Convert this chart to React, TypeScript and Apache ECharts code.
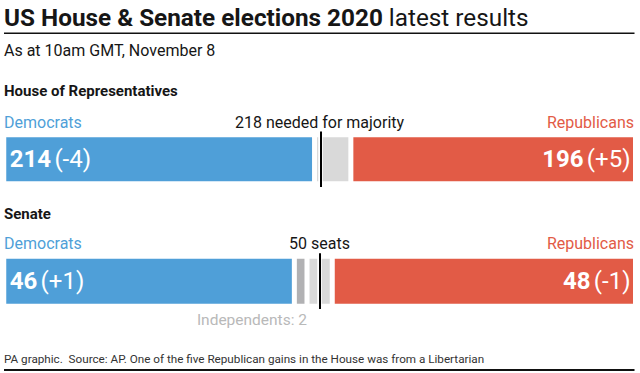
import React, { useEffect, useRef } from "react";
import * as echarts from "echarts";

const chambers = ["House of Representatives", "Senate"];
const totalSeats = [435, 100];
const majoritySeats = [218, 50];
const majorityLabels = ["218 needed for majority", "50 seats"];
const demSeats = [214, 46];
const demChange = ["-4", "+1"];
const indSeats = [0, 2];
const undecidedSeats = [25, 4];
const repSeats = [196, 48];
const repChange = ["+5", "-1"];
const partyNames = ["Democrats", "Republicans"];
const indLabel = "Independents: 2";

const titleBold = "US House & Senate elections 2020";
const titleLight = " latest results";
const subtitle = "As at 10am GMT, November 8";
const footnote = "PA graphic.  Source: AP. One of the five Republican gains in the House was from a Libertarian";

const FONT = "Roboto, 'Noto Sans', sans-serif";
const BLUE = "#4f9fd8";
const RED = "#e25b46";
const LIGHT = "#d9d9d9";
const IND = "#b1b1b3";
const INK = "#161616";

// layout (pixels)
const gridTops = [131.5, 253.3];
const gridHeights = [55.5, 55.7];
const barWidths = [49, 50];
const headingY = [92.5, 215];
const partyY = [122.5, 243];

export default function App() {
  const ref = useRef<HTMLDivElement>(null);
  useEffect(() => {
    if (!ref.current) return;
    const chart = echarts.init(ref.current, undefined, { renderer: "svg" });

    const grids: any[] = [];
    const xAxes: any[] = [];
    const yAxes: any[] = [];
    const series: any[] = [];
    const graphics: any[] = [];

    const richLabel = {
      b: { fontFamily: FONT, fontWeight: "bold", fontSize: 24, color: "#fff" },
      r: { fontFamily: FONT, fontWeight: "normal", fontSize: 24, color: "#fff" },
    };
    const itemBorder = { borderColor: "#fff", borderWidth: 2.5 };

    chambers.forEach((name, i) => {
      grids.push({ left: 3.75, right: 4.5, top: gridTops[i], height: gridHeights[i] });
      xAxes.push({ type: "value", gridIndex: i, min: 0, max: totalSeats[i], show: false });
      yAxes.push({ type: "category", gridIndex: i, data: [name], show: false });
      const stack = "s" + i;
      const base = {
        type: "bar",
        xAxisIndex: i,
        yAxisIndex: i,
        stack,
        barWidth: barWidths[i],
        silent: true,
      };
      series.push({
        ...base,
        name: "Dem " + name,
        data: [demSeats[i]],
        itemStyle: { color: BLUE, ...itemBorder },
        label: {
          show: true,
          position: "insideLeft",
          distance: 6,
          formatter: () => `{b|${demSeats[i]}} {r|(${demChange[i]})}`,
          rich: richLabel,
        },
      });
      if (indSeats[i] > 0) {
        series.push({
          ...base,
          name: "Ind " + name,
          data: [indSeats[i]],
          itemStyle: { color: IND, ...itemBorder },
        });
      }
      series.push({
        ...base,
        name: "Undecided " + name,
        data: [undecidedSeats[i]],
        itemStyle: { color: LIGHT, ...itemBorder },
        markLine: {
          silent: true,
          symbol: "none",
          label: { show: false },
          data: [
            { xAxis: majoritySeats[i], lineStyle: { color: "#fff", width: 4.5, type: "solid" } },
            { xAxis: majoritySeats[i], lineStyle: { color: "#000", width: 2, type: "solid" } },
          ],
        },
      });
      series.push({
        ...base,
        name: "Rep " + name,
        data: [repSeats[i]],
        itemStyle: { color: RED, ...itemBorder },
        label: {
          show: true,
          position: "insideRight",
          distance: 5,
          formatter: () => `{b|${repSeats[i]}} {r|(${repChange[i]})}`,
          rich: richLabel,
        },
      });

      graphics.push(
        {
          type: "text",
          left: 4,
          top: headingY[i] - 9,
          style: { text: name, font: `bold 15px ${FONT}`, fill: INK },
        },
        {
          type: "text",
          x: 4,
          y: partyY[i],
          style: { text: partyNames[0], font: `16px ${FONT}`, fill: BLUE, textVerticalAlign: "middle" },
        },
        {
          type: "text",
          x: 634,
          y: partyY[i],
          style: { text: partyNames[1], font: `16px ${FONT}`, fill: RED, textAlign: "right", textVerticalAlign: "middle" },
        },
        {
          type: "text",
          x: 319.5,
          y: partyY[i],
          style: { text: majorityLabels[i], font: `16px ${FONT}`, fill: INK, textAlign: "center", textVerticalAlign: "middle" },
        }
      );
    });

    graphics.push(
      {
        type: "text",
        x: 4,
        y: 17,
        style: {
          text: `{b|${titleBold}}{r|${titleLight}}`,
          textVerticalAlign: "middle",
          rich: {
            b: { fontFamily: FONT, fontWeight: "bold", fontSize: 24.3, fill: INK, color: INK },
            r: { fontFamily: FONT, fontWeight: "normal", fontSize: 24.3, fill: INK, color: INK },
          },
        },
      },
      {
        type: "line",
        shape: { x1: 4, y1: 33.3, x2: 634.5, y2: 33.3 },
        style: { stroke: "#111", lineWidth: 1.5 },
      },
      {
        type: "text",
        x: 4,
        y: 50,
        style: { text: subtitle, font: `16px ${FONT}`, fill: INK, textVerticalAlign: "middle" },
      },
      {
        type: "text",
        x: 307,
        y: 320,
        style: { text: indLabel, font: `15.5px ${FONT}`, fill: "#b9b9b9", textAlign: "right", textVerticalAlign: "middle" },
      },
      {
        type: "text",
        x: 4,
        y: 358.7,
        style: { text: footnote, font: `11.7px ${FONT}`, fill: "#333", textVerticalAlign: "middle" },
      },
      {
        type: "line",
        shape: { x1: 4, y1: 370, x2: 634.5, y2: 370 },
        style: { stroke: "#111", lineWidth: 2 },
      }
    );

    chart.setOption({
      animation: false,
      backgroundColor: "#fff",
      grid: grids,
      xAxis: xAxes,
      yAxis: yAxes,
      series,
      graphic: graphics,
    });
    return () => chart.dispose();
  }, []);
  return (
    <div
      ref={ref}
      style={{ position: "absolute", left: 0, top: 0, width: 640, height: 373 }}
    />
  );
}
